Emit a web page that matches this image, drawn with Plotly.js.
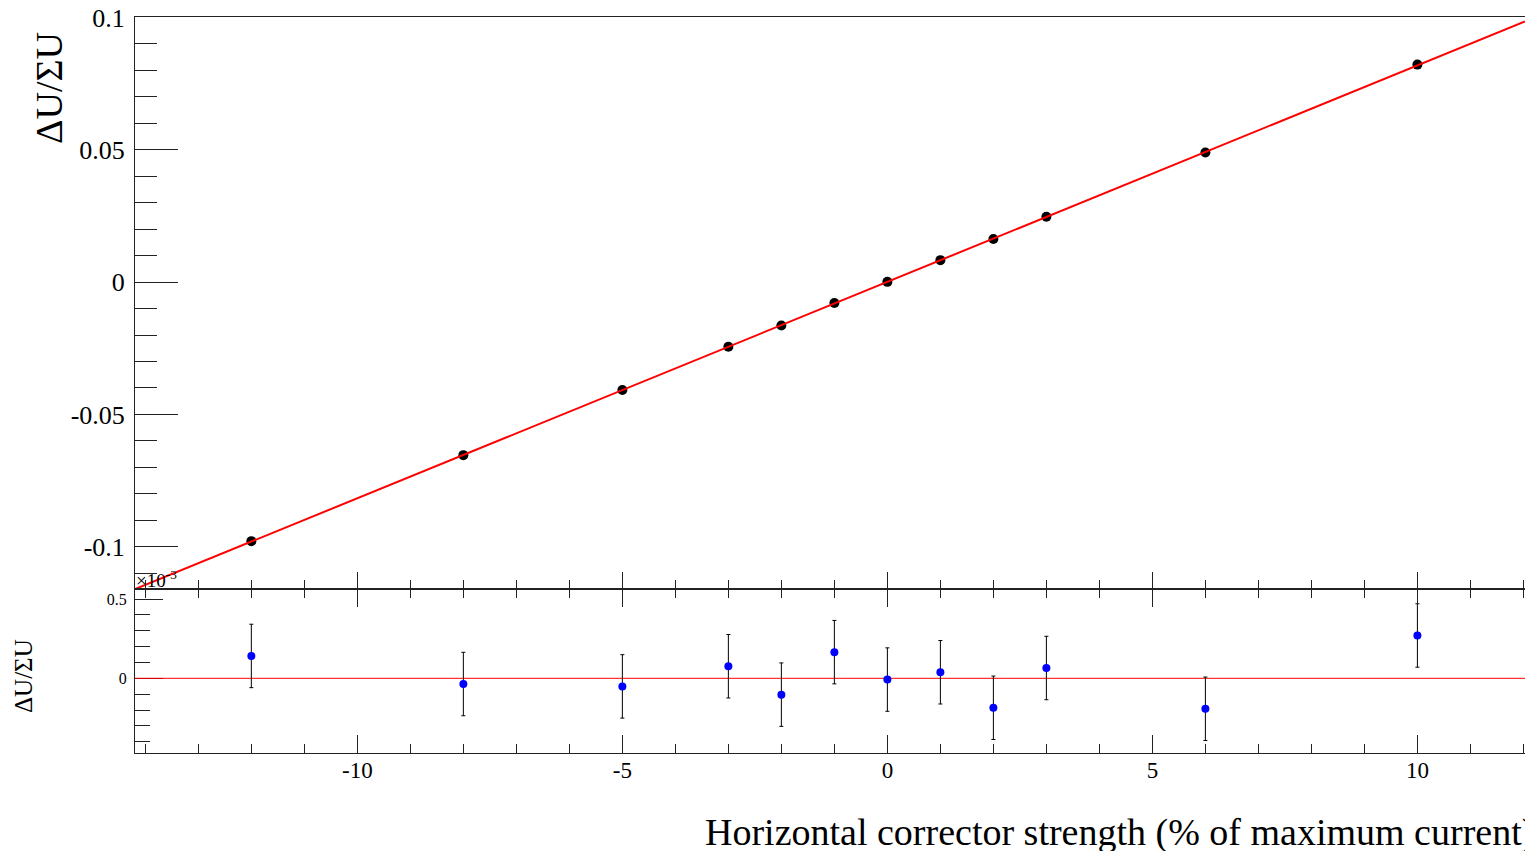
<!DOCTYPE html>
<html>
<head>
<meta charset="utf-8">
<script src="https://cdn.plot.ly/plotly-3.0.1.min.js"></script>
<style>html,body{margin:0;padding:0;background:#fff;}#chart{width:1525px;height:851px;}</style>
</head>
<body>
<div id="chart"></div>
<script>
// ---- data ----
const xValues = [-12, -8, -5, -3, -2, -1, 0, 1, 2, 3, 6, 10];
const asymmetry = [-0.0979, -0.0654, -0.0408, -0.0244, -0.0164, -0.0079, 0.0001, 0.0083, 0.0163, 0.0247, 0.0490, 0.0822];
const residuals = [0.141, -0.036, -0.051, 0.076, -0.103, 0.165, -0.008, 0.038, -0.186, 0.065, -0.192, 0.270];
const residualErrors = [0.20, 0.20, 0.20, 0.20, 0.20, 0.20, 0.20, 0.20, 0.20, 0.20, 0.20, 0.20];
const fitIntercept = 0.0001;
const fitSlope = 0.00818;

const xRange = [-14.195, 12.03];
const yTopRange = [-0.1160, 0.1002];
const yBotRange = [-0.471, 0.563];

const xTickVals = [-10, -5, 0, 5, 10];
const xTickText = ['-10', '-5', '0', '5', '10'];
const yTopTickVals = [-0.1, -0.05, 0, 0.05, 0.1];
const yTopTickText = ['-0.1', '-0.05', '0', '0.05', '0.1'];
const yBotTickVals = [0, 0.5];
const yBotTickText = ['0', '0.5'];

const fitX = [xRange[0], xRange[1]];
const fitY = fitX.map(x => fitIntercept + fitSlope * x);

const FONT = '"Liberation Serif", "Times New Roman", serif';
const split = 0.2228;
const AX = '#222';

const traces = [
  {x: xValues, y: asymmetry, mode: 'markers', type: 'scatter', xaxis: 'x', yaxis: 'y',
   marker: {color: '#000', size: 10}, hoverinfo: 'x+y'},
  {x: fitX, y: fitY, mode: 'lines', type: 'scatter', xaxis: 'x', yaxis: 'y',
   line: {color: '#ff0000', width: 2}, hoverinfo: 'skip'},
  {x: fitX, y: [0, 0], mode: 'lines', type: 'scatter', xaxis: 'x2', yaxis: 'y2',
   line: {color: '#ff0000', width: 1}, hoverinfo: 'skip'},
  {x: xValues, y: residuals, mode: 'markers', type: 'scatter', xaxis: 'x2', yaxis: 'y2',
   marker: {color: '#0000ff', size: 8},
   error_y: {type: 'data', array: residualErrors, visible: true, color: '#000', thickness: 1, width: 2}},
  {x: [xRange[0]], y: [yBotRange[1] * 2], mode: 'markers', type: 'scatter', xaxis: 'x3', yaxis: 'y2',
   marker: {size: 1, opacity: 0}, hoverinfo: 'skip'}
];

const layout = {
  width: 1525, height: 851,
  margin: {l: 135, r: 0, t: 17, b: 98, pad: 0},
  paper_bgcolor: '#fff', plot_bgcolor: '#fff',
  showlegend: false,
  font: {family: FONT, color: '#000'},
  xaxis: {domain: [0, 1], anchor: 'y', range: xRange, showticklabels: false, ticks: '',
          showline: true, mirror: true, linecolor: AX, linewidth: 1, showgrid: false, zeroline: false},
  yaxis: {domain: [split, 1], anchor: 'x', range: yTopRange, tickmode: 'array',
          tickvals: yTopTickVals, ticktext: yTopTickText, ticks: 'inside', ticklen: 43, tickcolor: AX,
          minor: {tickmode: 'linear', tick0: 0, dtick: 0.01, ticks: 'inside', ticklen: 22, tickcolor: AX},
          showline: true, linecolor: AX, linewidth: 1, showgrid: false, zeroline: false,
          tickfont: {size: 26, family: FONT}, ticklabelstandoff: 4, layer: 'below traces'},
  xaxis2: {domain: [0, 1], anchor: 'y2', range: xRange, tickmode: 'array',
           tickvals: xTickVals, ticktext: xTickText, ticks: 'inside', ticklen: 18, tickcolor: AX,
           minor: {tickmode: 'linear', tick0: 0, dtick: 1, ticks: 'inside', ticklen: 9, tickcolor: AX},
           mirror: 'ticks', showline: true, linecolor: AX, linewidth: 1, showgrid: false, zeroline: false,
           tickfont: {size: 23, family: FONT}, ticklabelstandoff: -4},
  xaxis3: {overlaying: 'x2', anchor: 'y2', side: 'top', range: xRange, tickmode: 'array',
           tickvals: xTickVals, ticktext: xTickText, showticklabels: false, ticks: 'outside', ticklen: 16, tickcolor: AX,
           minor: {tickmode: 'linear', tick0: 0, dtick: 1, ticks: 'outside', ticklen: 8, tickcolor: AX},
           showline: false, showgrid: false, zeroline: false},
  yaxis2: {domain: [0, split], anchor: 'x2', range: yBotRange, tickmode: 'array',
           tickvals: yBotTickVals, ticktext: yBotTickText, ticks: 'inside', ticklen: 28, tickcolor: AX,
           minor: {tickmode: 'linear', tick0: 0, dtick: 0.1, ticks: 'inside', ticklen: 15, tickcolor: AX},
           showline: true, linecolor: AX, linewidth: 1, showgrid: false, zeroline: false,
           tickfont: {size: 16, family: FONT}, ticklabelstandoff: 4, layer: 'below traces'},
  annotations: [
    {text: 'Horizontal corrector strength (% of maximum current)', xref: 'paper', yref: 'paper',
     x: 0.4086, y: -0.108, xanchor: 'left', yanchor: 'middle', showarrow: false,
     font: {size: 38, family: FONT, color: '#000'}},
    {text: 'ΔU/ΣU', xref: 'paper', yref: 'paper', x: -0.0619, y: 0.9035, xanchor: 'center', yanchor: 'middle',
     textangle: -90, showarrow: false, font: {size: 38, family: FONT, color: '#000'}},
    {text: 'ΔU/ΣU', xref: 'paper', yref: 'paper', x: -0.0806, y: 0.1046, xanchor: 'center', yanchor: 'middle',
     textangle: -90, showarrow: false, font: {size: 25, family: FONT, color: '#000'}},
    {text: '×10<sup>-3</sup>', xref: 'paper', yref: 'paper', x: -0.001, y: 0.2175, xanchor: 'left', yanchor: 'bottom',
     showarrow: false, font: {size: 19, family: FONT, color: '#000'}}
  ]
};

Plotly.newPlot('chart', traces, layout, {displayModeBar: false, staticPlot: true});
</script>
</body>
</html>
